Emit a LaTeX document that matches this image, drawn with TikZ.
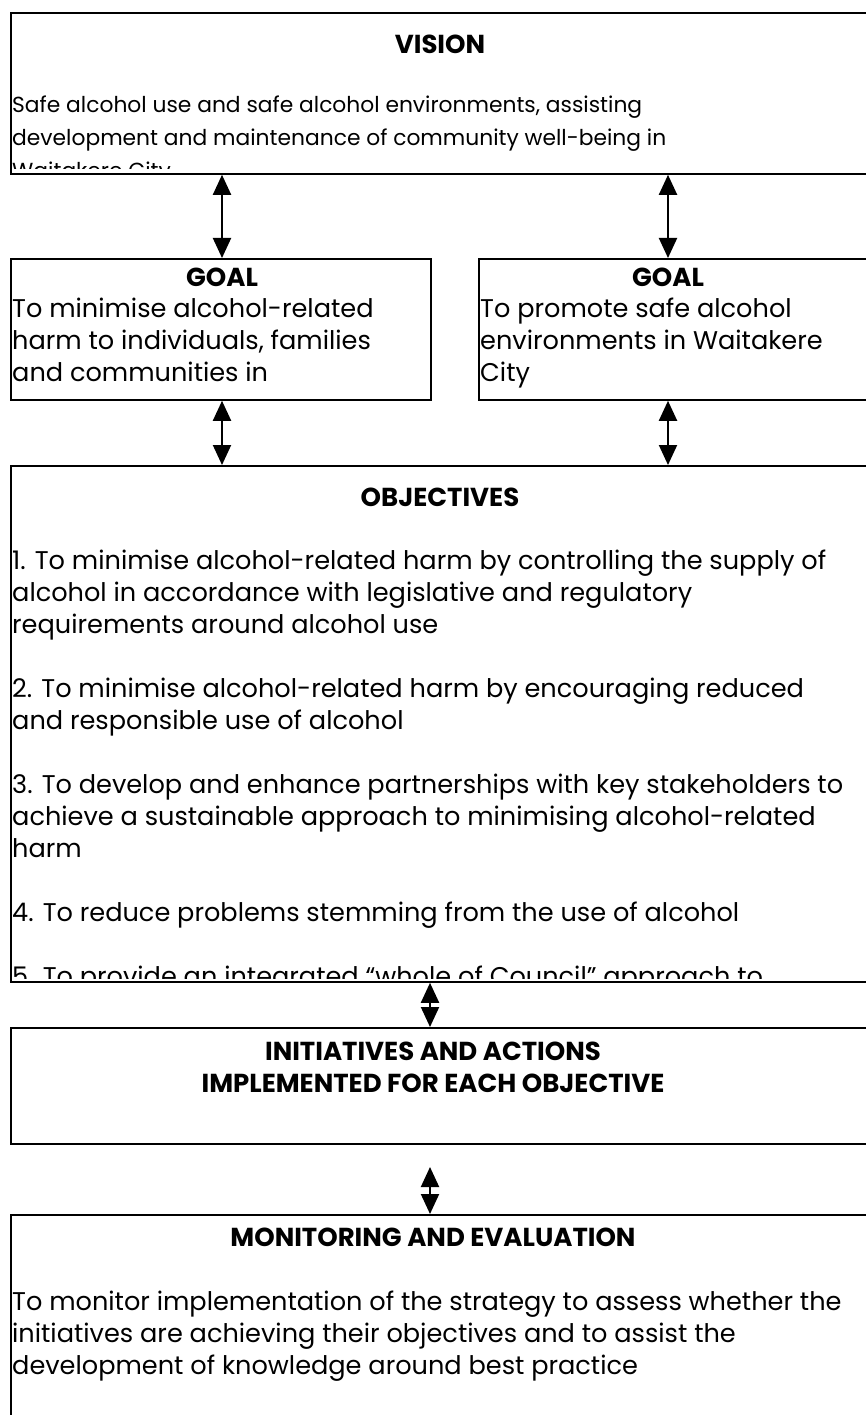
\documentclass[tikz,border=0pt]{standalone}
\usepackage{fontspec}
\setmainfont{Poppins}
\usepackage{tikz}
\usetikzlibrary{arrows.meta,positioning,calc}

% left-aligned block whose baseline is its first line
\newcommand{\textlines}[1]{\parbox[t]{850pt}{\raggedright #1}}
\newcommand{\headlines}[1]{\parbox[t]{700pt}{\centering #1}}

\begin{document}
\begin{tikzpicture}[
    x=1pt, y=1pt,
    panel/.style={rectangle, draw, line width=1.8pt, inner sep=0pt, anchor=north west},
    head/.style={font=\fontsize{26}{32}\selectfont\bfseries, anchor=base, inner sep=0pt},
    body/.style={font=\fontsize{25.6}{32}\selectfont, anchor=base west, inner sep=0pt},
    smallbody/.style={body, font=\fontsize{21.8}{33}\selectfont},
    arrow/.style={{Triangle[width=18pt,length=20pt]}-{Triangle[width=18pt,length=20pt]}, line width=2pt}
]
\useasboundingbox (0,0) rectangle (866,-1415);

% boxes
\node[panel, minimum width=860pt, minimum height=161pt] (vision) at (10,-12) {};
\node[panel, minimum width=420pt, minimum height=141pt] (goalL) at (10,-258) {};
\node[panel, minimum width=392pt, minimum height=141pt] (goalR) at (478,-258) {};
\node[panel, minimum width=860pt, minimum height=516pt] (objectives) at (10,-465) {};
\node[panel, minimum width=860pt, minimum height=116pt] (initiatives) at (10,-1027) {};
\node[panel, minimum width=860pt, minimum height=230pt] (monitor) at (10,-1214) {};

% vision (text cut at the inner margin)
\node[head] (visionhead) at (440,-54) {VISION};
\begin{scope}
\clip (vision.north west) rectangle ([yshift=6pt]vision.south east);
\node[smallbody] (visiontext) at (12,-113) {\textlines{Safe alcohol use and safe alcohol environments, assisting\\
development and maintenance of community well-being in\\
Waitakere City}};
\end{scope}

% goals
\node[head] (goalLhead) at (222,-286) {GOAL};
\node[head] (goalRhead) at (668,-286) {GOAL};
\node[body] (goalLtext) at (12,-317) {\textlines{To minimise alcohol-related\\
harm to individuals, families\\
and communities in}};
\node[body] (goalRtext) at (480,-317) {\textlines{To promote safe alcohol\\
environments in Waitakere\\
City}};

% objectives
\node[head] (objhead) at (440,-506) {OBJECTIVES};
\begin{scope}
\clip (objectives.north west) rectangle ([yshift=4pt]objectives.south east);
\node[body] (objtext) at (12,-569) {\textlines{1. To minimise alcohol-related harm by controlling the supply of\\
alcohol in accordance with legislative and regulatory\\
requirements around alcohol use\\[32pt]
2. To minimise alcohol-related harm by encouraging reduced\\
and responsible use of alcohol\\[32pt]
3. To develop and enhance partnerships with key stakeholders to\\
achieve a sustainable approach to minimising alcohol-related\\
harm\\[32pt]
4. To reduce problems stemming from the use of alcohol\\[32pt]
5. To provide an integrated “whole of Council” approach to}};
\end{scope}

% initiatives
\node[head] (inithead) at (433,-1060) {\headlines{INITIATIVES AND ACTIONS\\IMPLEMENTED FOR EACH OBJECTIVE}};

% monitoring
\node[head] (monhead) at (433,-1246) {MONITORING AND EVALUATION};
\node[body] (montext) at (12,-1310) {\textlines{To monitor implementation of the strategy to assess whether the\\
initiatives are achieving their objectives and to assist the\\
development of knowledge around best practice}};

% connectors
\coordinate (gap) at (430,-1167);
\draw[arrow] (vision.south -| goalLhead) -- (goalL.north -| goalLhead);
\draw[arrow] (vision.south -| goalRhead) -- (goalR.north -| goalRhead);
\draw[arrow] (goalL.south -| goalLhead) -- (objectives.north -| goalLhead);
\draw[arrow] (goalR.south -| goalRhead) -- (objectives.north -| goalRhead);
\draw[arrow] (objectives.south -| gap) -- (initiatives.north -| gap);
\draw[arrow] (gap) -- (monitor.north -| gap);
\end{tikzpicture}
\end{document}
